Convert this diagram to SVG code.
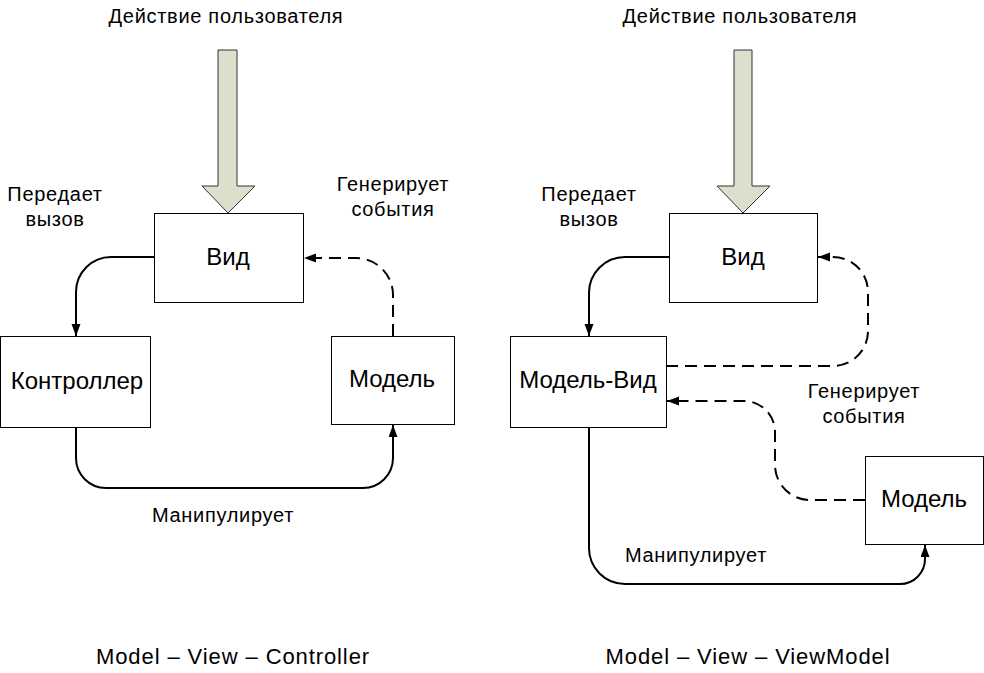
<svg xmlns="http://www.w3.org/2000/svg" width="984" height="673" viewBox="0 0 984 673">
<defs>
<marker id="arr" markerUnits="userSpaceOnUse" markerWidth="13" markerHeight="10" refX="12" refY="4.5" orient="auto">
<path d="M0,0 L12,4.5 L0,9 z" fill="#000"/>
</marker>
</defs>
<style>
text{font-family:"Liberation Sans",Arial,sans-serif;fill:#000}
.lbl{font-size:20px;letter-spacing:0.7px;text-anchor:middle}
.node{font-size:24px;text-anchor:middle}
.title{font-size:22px;letter-spacing:0.9px;text-anchor:middle}
.box{fill:#fff;stroke:#000;stroke-width:1}
.big{fill:#dcdfcb;stroke:#333;stroke-width:1}
.c{fill:none;stroke:#000;stroke-width:2;marker-end:url(#arr)}
.d{stroke-dasharray:12,7}
</style>
<rect width="984" height="673" fill="#fff"/>

<g id="connectors">
<path class="c" d="M154,257 H111 A35,35 0 0 0 76,292 V336"/>
<path class="c" d="M76,428 V458 A30,30 0 0 0 106,488 H363 A30,30 0 0 0 393,458 V425"/>
<path class="c d" d="M393,336 V295 A37,37 0 0 0 356,258 H304"/>
<path class="c" d="M669,257 H625 A36,36 0 0 0 589,293 V336"/>
<path class="c d" d="M666,366 H833 A35,35 0 0 0 868,331 V292 A35,35 0 0 0 833,257 H818"/>
<path class="c d" d="M865,500 H810 A35,35 0 0 1 775,465 V432 A31,31 0 0 0 744,401 H667"/>
<path class="c" d="M589,427 V548 A36,36 0 0 0 625,584 H900 A25,25 0 0 0 925,559 V545"/>
</g>

<g id="user-action-mvc">
<text class="lbl" x="226" y="23">Действие пользователя</text>
<path class="big" d="M218,50 H237 V186 H255 L228,213 L202,186 H218 Z"/>
</g>
<g id="view-mvc">
<rect class="box" x="154.5" y="213.5" width="149" height="89"/>
<text class="node" x="228" y="265">Вид</text>
</g>
<g id="controller">
<rect class="box" x="0.5" y="336.5" width="150" height="91"/>
<text class="node" x="77" y="389">Контроллер</text>
</g>
<g id="model-mvc">
<rect class="box" x="331.5" y="336.5" width="123" height="88"/>
<text class="node" x="392" y="387">Модель</text>
</g>
<g id="labels-mvc">
<text class="lbl" x="55" y="201">Передает</text>
<text class="lbl" x="55" y="226">вызов</text>
<text class="lbl" x="393" y="191">Генерирует</text>
<text class="lbl" x="393" y="216">события</text>
<text class="lbl" x="223" y="522">Манипулирует</text>
<text class="title" x="233" y="664">Model – View – Controller</text>
</g>

<g id="user-action-mvvm">
<text class="lbl" x="740" y="23">Действие пользователя</text>
<path class="big" d="M734,50 H752 V186 H770 L743,213 L717,186 H734 Z"/>
</g>
<g id="view-mvvm">
<rect class="box" x="669.5" y="213.5" width="148" height="89"/>
<text class="node" x="743" y="265">Вид</text>
</g>
<g id="model-view">
<rect class="box" x="510.5" y="336.5" width="156" height="91"/>
<text class="node" x="588" y="388">Модель-Вид</text>
</g>
<g id="model-mvvm">
<rect class="box" x="865.5" y="456.5" width="118" height="88"/>
<text class="node" x="924" y="507">Модель</text>
</g>
<g id="labels-mvvm">
<text class="lbl" x="589" y="201">Передает</text>
<text class="lbl" x="589" y="226">вызов</text>
<text class="lbl" x="864" y="398">Генерирует</text>
<text class="lbl" x="864" y="423">события</text>
<text class="lbl" x="696" y="562">Манипулирует</text>
<text class="title" x="748" y="664">Model – View – ViewModel</text>
</g>
</svg>
